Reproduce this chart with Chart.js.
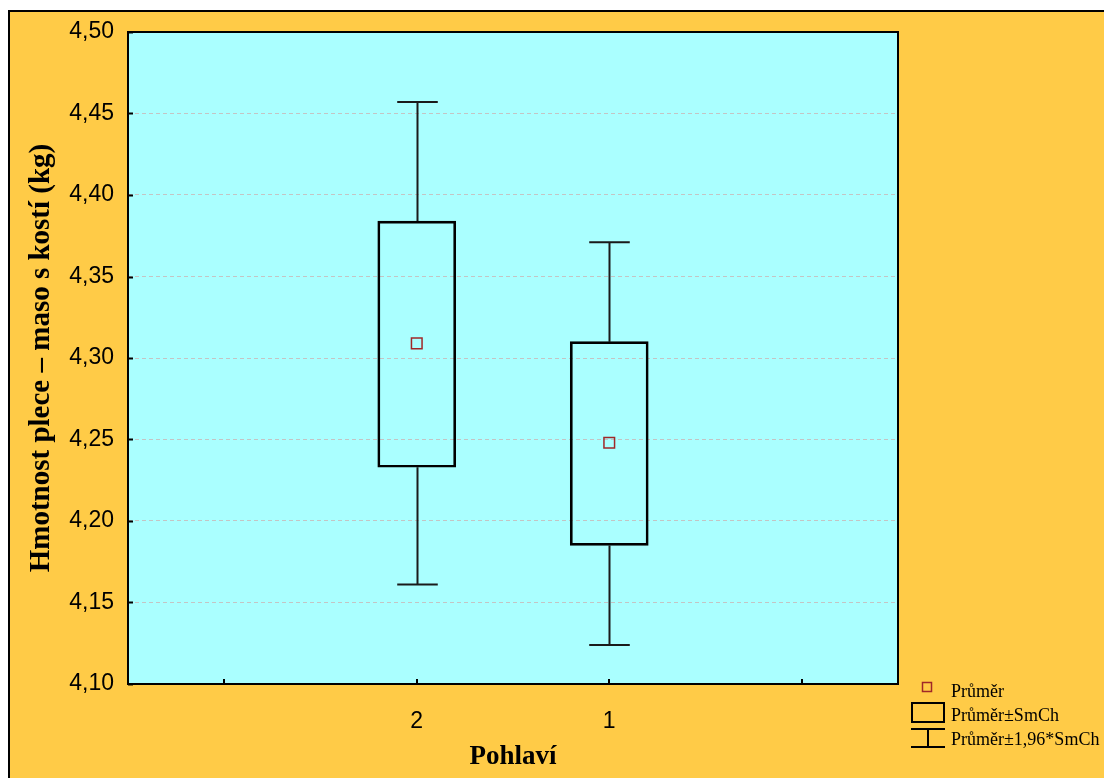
<!DOCTYPE html>
<html>
<head>
<meta charset="utf-8">
<script src="https://cdn.jsdelivr.net/npm/chart.js@4/dist/chart.umd.min.js"></script>
<style>
  html, body { margin: 0; padding: 0; background: #fff; }
  canvas { display: block; }
</style>
</head>
<body>
<canvas id="box_chart" width="1104" height="778"></canvas>
<script>
"use strict";

// categories (empty slots at both ends, like the original axis)
const groups = ["", "2", "1", ""];
// mean, mean ± SE, mean ± 1.96*SE
const means = [null, 4.309, 4.248, null];
const seLow = [null, 4.233, 4.185, null];
const seHigh = [null, 4.384, 4.310, null];
const ciLow = [null, 4.161, 4.124, null];
const ciHigh = [null, 4.457, 4.371, null];
const yTicks = [4.10, 4.15, 4.20, 4.25, 4.30, 4.35, 4.40, 4.45, 4.50];

const legendLabels = ["Průměr", "Průměr±SmCh", "Průměr±1,96*SmCh"];

const orange = "#FFCB47";
const cyan = "#AAFFFF";

let boxData = groups.map(function(g, i) {
    return seLow[i] == null ? null : [seLow[i], seHigh[i]];
});

let backgroundPlugin = {
    id: "backgrounds",
    beforeDraw: function(chart) {
        let ctx = chart.ctx;
        let a = chart.chartArea;
        ctx.save();
        ctx.fillStyle = "#ffffff";
        ctx.fillRect(0, 0, chart.width, chart.height);
        ctx.fillStyle = orange;
        ctx.fillRect(8, 10, chart.width, chart.height);
        ctx.strokeStyle = "#000";
        ctx.lineWidth = 2;
        ctx.beginPath();
        ctx.moveTo(9, chart.height + 2);
        ctx.lineTo(9, 11);
        ctx.lineTo(chart.width + 2, 11);
        ctx.stroke();
        ctx.fillStyle = cyan;
        ctx.fillRect(a.left, a.top, a.right - a.left, a.bottom - a.top);
        ctx.restore();
    }
};

let whiskerPlugin = {
    id: "whiskers",
    beforeDatasetsDraw: function(chart) {
        let ctx = chart.ctx;
        let y = chart.scales.y;
        let bars = chart.getDatasetMeta(0).data;
        ctx.save();
        ctx.strokeStyle = "#1a1a1a";
        ctx.lineWidth = 2;
        bars.forEach(function(bar, i) {
            if (ciHigh[i] == null) return;
            let x = Math.round(bar.x) + 0.5;
            let half = bar.width * 0.26;
            let top = y.getPixelForValue(ciHigh[i]);
            let bottom = y.getPixelForValue(ciLow[i]);
            let hi = y.getPixelForValue(seHigh[i]);
            let lo = y.getPixelForValue(seLow[i]);
            ctx.beginPath();
            ctx.moveTo(x, hi);
            ctx.lineTo(x, top);
            ctx.moveTo(x - half, top);
            ctx.lineTo(x + half, top);
            ctx.moveTo(x, lo);
            ctx.lineTo(x, bottom);
            ctx.moveTo(x - half, bottom);
            ctx.lineTo(x + half, bottom);
            ctx.stroke();
        });
        ctx.restore();
    },
    afterDatasetsDraw: function(chart) {
        let ctx = chart.ctx;
        let a = chart.chartArea;
        ctx.save();
        ctx.strokeStyle = "#000";
        ctx.lineWidth = 2;
        ctx.beginPath();
        // inner tick marks
        chart.scales.y.ticks.forEach(function(t) {
            let py = Math.round(chart.scales.y.getPixelForValue(t.value)) + 0.5;
            ctx.moveTo(a.left, py);
            ctx.lineTo(a.left + 5, py);
        });
        groups.forEach(function(g, i) {
            let px = Math.round(chart.scales.x.getPixelForValue(i));
            ctx.moveTo(px, a.bottom);
            ctx.lineTo(px, a.bottom - 5);
        });
        ctx.stroke();
        ctx.strokeRect(a.left, a.top, a.right - a.left, a.bottom - a.top);
        ctx.restore();
    }
};

let legendPlugin = {
    id: "boxLegend",
    afterDraw: function(chart) {
        let ctx = chart.ctx;
        ctx.save();
        ctx.fillStyle = "#000";
        ctx.font = '18px "Liberation Serif", "Times New Roman", serif';
        ctx.textBaseline = "alphabetic";
        ctx.fillText(legendLabels[0], 951, 697);
        ctx.fillText(legendLabels[1], 951, 721);
        ctx.fillText(legendLabels[2], 951, 745);

        ctx.strokeStyle = "#a02828";
        ctx.lineWidth = 1.5;
        ctx.strokeRect(922.5, 682.5, 9, 9);

        ctx.strokeStyle = "#000";
        ctx.lineWidth = 2;
        ctx.strokeRect(912, 703, 32, 19);
        ctx.beginPath();
        ctx.moveTo(911, 729);
        ctx.lineTo(945, 729);
        ctx.moveTo(928, 729);
        ctx.lineTo(928, 747);
        ctx.moveTo(911, 747);
        ctx.lineTo(945, 747);
        ctx.stroke();
        ctx.restore();
    }
};

let chartHtml = document.getElementById("box_chart");
let chart = new Chart(chartHtml, {
    type: "bar",
    data: {
        labels: groups,
        datasets: [{
            type: "bar",
            data: boxData,
            backgroundColor: "rgba(0,0,0,0)",
            borderColor: "#000",
            borderWidth: 2,
            borderSkipped: false,
            barThickness: 78
        }, {
            type: "line",
            data: means,
            showLine: false,
            pointStyle: "rect",
            pointRadius: 7.5,
            pointBorderWidth: 1.5,
            pointBorderColor: "#a02828",
            pointBackgroundColor: "rgba(0,0,0,0)"
        }]
    },
    options: {
        responsive: false,
        animation: false,
        devicePixelRatio: 1,
        layout: {
            padding: { left: 0, top: 32, right: 206, bottom: 0 }
        },
        plugins: {
            legend: { display: false },
            tooltip: { enabled: false }
        },
        scales: {
            x: {
                offset: true,
                grid: { display: false },
                border: { display: false },
                ticks: {
                    color: "#000",
                    padding: 16,
                    font: { family: '"Liberation Sans", Arial, sans-serif', size: 23 }
                },
                title: {
                    display: true,
                    text: "Pohlaví",
                    color: "#000",
                    padding: { top: 0, bottom: 5 },
                    font: { family: '"Liberation Serif", "Times New Roman", serif', size: 27, weight: "bold" }
                },
                afterFit: function(scale) { scale.height = 94; }
            },
            y: {
                min: 4.10,
                max: 4.50,
                afterBuildTicks: function(scale) {
                    scale.ticks = yTicks.map(function(v) { return { value: v }; });
                },
                grid: {
                    color: "#c4c4c4",
                    lineWidth: 1,
                    drawTicks: false
                },
                border: { display: false, dash: [4, 3] },
                ticks: {
                    color: "#000",
                    padding: 14,
                    font: { family: '"Liberation Sans", Arial, sans-serif', size: 23 },
                    callback: function(v) { return Number(v).toFixed(2).replace(".", ","); }
                },
                title: {
                    display: true,
                    text: "Hmotnost plece – maso s kostí (kg)",
                    color: "#000",
                    align: "center",
                    padding: { top: 24, bottom: 0 },
                    font: { family: '"Liberation Serif", "Times New Roman", serif', size: 29, weight: "bold" }
                },
                afterFit: function(scale) { scale.width = 128; }
            }
        }
    },
    plugins: [backgroundPlugin, whiskerPlugin, legendPlugin]
});
</script>
</body>
</html>
